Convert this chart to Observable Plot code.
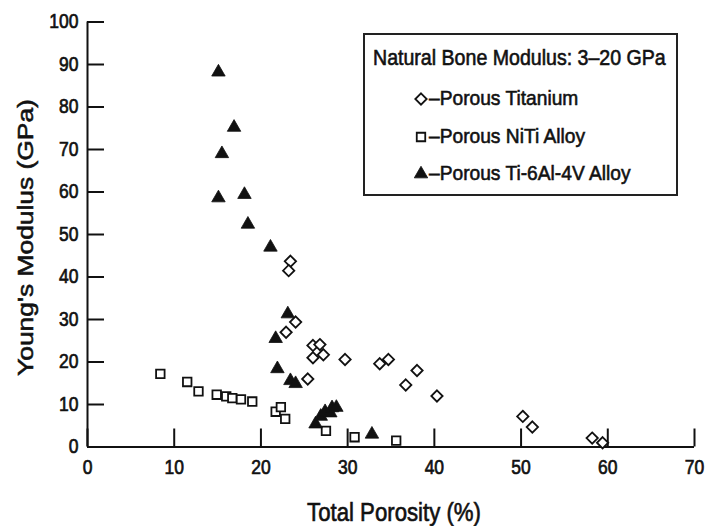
<!DOCTYPE html>
<html><head><meta charset="utf-8">
<script src="https://cdn.jsdelivr.net/npm/d3@7"></script>
<script src="https://cdn.jsdelivr.net/npm/@observablehq/plot@0.6"></script>
<style>
body{margin:0;background:#fff;}
#wrap{position:relative;width:708px;height:526px;font-family:"Liberation Sans",Arial,sans-serif;color:#111;}
#wrap svg{position:absolute;left:0;top:0;}
</style></head><body><div id="wrap"></div>
<script>
const xTicks = [0, 10, 20, 30, 40, 50, 60, 70];
const yTicks = [0, 10, 20, 30, 40, 50, 60, 70, 80, 90, 100];
const xLabel = "Total Porosity (%)";
const yLabel = "Young's Modulus (GPa)";
const legendTitle = "Natural Bone Modulus: 3\u201320 GPa";
const seriesNames = ["\u2013Porous Titanium", "\u2013Porous NiTi Alloy", "\u2013Porous Ti-6Al-4V Alloy"];

// [total porosity %, Young's modulus GPa]
const titanium = [[23.4,43.7],[23.2,41.5],[24.0,29.4],[22.9,27.0],[26.0,23.9],[26.8,24.1],[26.0,21.0],[27.2,21.7],[29.7,20.6],[25.4,16.0],[33.7,19.6],[34.7,20.6],[38.0,18.0],[36.7,14.6],[40.3,12.0],[50.2,7.2],[51.3,4.7],[58.2,2.1],[59.4,1.0]];
const niti = [[8.4,17.2],[11.5,15.3],[12.8,13.1],[14.9,12.3],[16.0,11.9],[16.7,11.5],[17.7,11.2],[19.0,10.7],[21.7,8.3],[22.3,9.4],[22.8,6.6],[27.5,3.8],[30.8,2.3],[35.6,1.5]];
const ti64 = [[15.1,88.2],[16.9,75.2],[15.5,69.0],[15.1,58.6],[18.1,59.4],[18.5,52.4],[21.1,47.0],[23.1,31.3],[21.7,25.5],[21.9,18.4],[23.4,15.6],[24.0,14.9],[26.3,5.4],[26.9,7.2],[27.4,8.3],[28.0,8.0],[28.2,9.2],[28.7,9.3],[32.8,3.0]];

const ink = "#111";
const W = 708, H = 526, mL = 87, mR = 14, mT = 21.5, mB = 79.5;
const frameW = W - mL - mR, frameH = H - mT - mB;

const chart = Plot.plot({
  width: W, height: H,
  marginLeft: mL, marginRight: mR, marginTop: mT, marginBottom: mB,
  x: {domain: [0, 70]},
  y: {domain: [0, 100]},
  style: {fontFamily: '"Liberation Sans", Arial, sans-serif', color: ink, background: "transparent"},
  marks: [
    Plot.axisX(xTicks, {tickSize: 0, tickPadding: 13, fontSize: 17.5, label: null}),
    Plot.axisY(yTicks, {tickSize: 0, tickPadding: 9, fontSize: 17.5, label: null}),
    Plot.ruleX(xTicks, {x: d => d, insetTop: frameH - 18, stroke: ink, strokeWidth: 2}),
    Plot.ruleY(yTicks, {y: d => d, insetRight: frameW - 17, stroke: ink, strokeWidth: 2}),
    Plot.ruleX([0], {stroke: ink, strokeWidth: 2}),
    Plot.ruleY([0], {stroke: ink, strokeWidth: 2}),
    Plot.dot(titanium, {x: d => d[0], y: d => d[1], symbol: "diamond2", r: 5.1, stroke: ink, strokeWidth: 1.8, fill: "white"}),
    Plot.dot(niti, {x: d => d[0], y: d => d[1], symbol: "square", r: 4.8, stroke: ink, strokeWidth: 1.8, fill: "white"}),
    Plot.dot(ti64, {x: d => d[0], y: d => d[1], symbol: "triangle", r: 5.0, fill: ink, stroke: ink, strokeWidth: 0.8})
  ]
});
// slightly taller, heavier tick labels like the scanned original
d3.select(chart).selectAll("g[aria-label$='tick label'] text").each(function() {
  const t = this.getAttribute("transform") || "";
  this.setAttribute("transform", t + " scale(1,1.14)");
}).attr("stroke", ink).attr("stroke-width", 0.6);
const wrap = document.getElementById("wrap");
wrap.appendChild(chart);

// overlay: axis titles and legend
const ov = d3.create("svg").attr("width", W).attr("height", H)
  .attr("font-family", '"Liberation Sans", Arial, sans-serif').attr("fill", ink);
const txt = (sel) => sel.attr("stroke", ink).attr("stroke-width", 0.55);
ov.append("text").attr("transform", "translate(394,521) scale(1,1.2)")
  .attr("text-anchor", "middle").attr("font-size", 22.2).text(xLabel).call(txt);
ov.append("text").attr("transform", "translate(33,237.5) rotate(-90) scale(1.2,1)")
  .attr("text-anchor", "middle").attr("font-size", 22).text(yLabel).call(txt);

const lg = ov.append("g");
lg.append("rect").attr("x", 364).attr("y", 34).attr("width", 313).attr("height", 161)
  .attr("fill", "white").attr("stroke", "#222").attr("stroke-width", 2);
lg.append("text").attr("transform", "translate(373,65) scale(1,1.08)").attr("font-size", 19.6).text(legendTitle).call(txt);
const baselines = [105, 143, 180];
const symbols = [d3.symbolDiamond2, d3.symbolSquare, d3.symbolTriangle];
const sizes = [83, 72, 78];
seriesNames.forEach((name, i) => {
  lg.append("path").attr("d", d3.symbol(symbols[i], sizes[i])())
    .attr("transform", `translate(421,${baselines[i] - 6})`)
    .attr("fill", i === 2 ? ink : "white").attr("stroke", ink).attr("stroke-width", i === 2 ? 0.8 : 1.8);
  lg.append("text").attr("transform", `translate(429,${baselines[i]}) scale(1,1.08)`).attr("font-size", 19.2).text(name).call(txt);
});
wrap.appendChild(ov.node());
</script>
</body></html>
